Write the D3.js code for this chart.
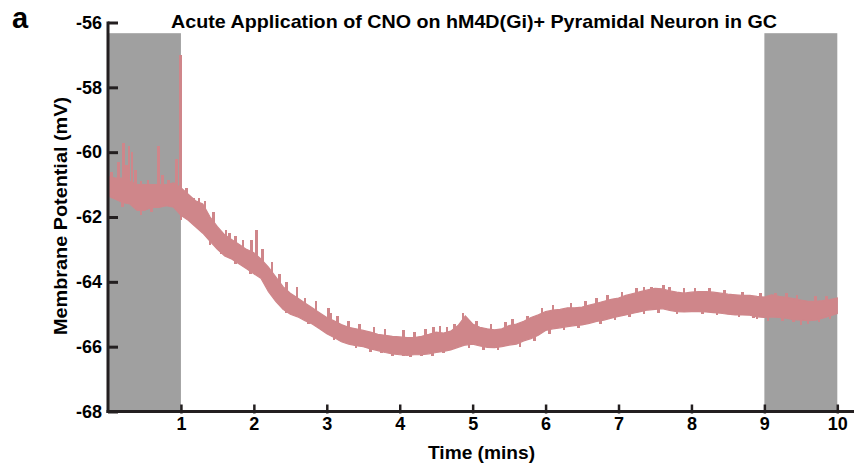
<!DOCTYPE html>
<html>
<head>
<meta charset="utf-8">
<script src="https://cdn.jsdelivr.net/npm/d3@7"></script>
<style>
  html, body { margin: 0; padding: 0; background: #ffffff; }
  svg { display: block; font-family: "Liberation Sans", Arial, Helvetica, sans-serif; }
</style>
</head>
<body>
<svg id="chart" width="854" height="463"></svg>
<script>
// ---- data ----
const timeMin = [0.0,0.1,0.2,0.3,0.4,0.5,0.6,0.7,0.8,0.9,1.0,1.1,1.2,1.3,1.4,1.5,1.6,1.7,1.8,1.9,
  2.0,2.1,2.2,2.3,2.4,2.5,2.6,2.7,2.8,2.9,3.0,3.1,3.2,3.3,3.4,3.5,3.6,3.7,3.8,3.9,
  4.0,4.1,4.2,4.3,4.4,4.5,4.6,4.7,4.8,4.9,5.0,5.1,5.2,5.3,5.4,5.5,5.6,5.7,5.8,5.9,
  6.0,6.1,6.2,6.3,6.4,6.5,6.6,6.7,6.8,6.9,7.0,7.1,7.2,7.3,7.4,7.5,7.6,7.7,7.8,7.9,
  8.0,8.1,8.2,8.3,8.4,8.5,8.6,8.7,8.8,8.9,9.0,9.1,9.2,9.3,9.4,9.5,9.6,9.7,9.8,9.9,10.0];
const upperMV = [-60.75,-60.8,-60.8,-60.9,-61.0,-61.0,-61.0,-61.0,-61.0,-60.95,-61.1,-61.3,-61.5,-61.6,-62.0,-62.3,-62.55,-62.7,-62.85,-63.0,
  -63.1,-63.3,-63.55,-63.85,-64.15,-64.35,-64.5,-64.65,-64.8,-64.95,-65.1,-65.2,-65.32,-65.4,-65.45,-65.5,-65.55,-65.62,-65.65,-65.68,
  -65.7,-65.72,-65.72,-65.68,-65.62,-65.55,-65.58,-65.52,-65.35,-65.05,-65.3,-65.4,-65.45,-65.48,-65.45,-65.35,-65.3,-65.22,-65.1,-65.02,
  -64.92,-64.87,-64.85,-64.8,-64.8,-64.78,-64.72,-64.66,-64.6,-64.54,-64.5,-64.42,-64.36,-64.3,-64.25,-64.2,-64.22,-64.28,-64.32,-64.35,
  -64.32,-64.3,-64.3,-64.32,-64.35,-64.38,-64.4,-64.42,-64.42,-64.45,-64.47,-64.4,-64.45,-64.48,-64.52,-64.56,-64.6,-64.6,-64.58,-64.55,-64.5];
const lowerMV = [-61.35,-61.45,-61.55,-61.6,-61.8,-61.8,-61.7,-61.7,-61.65,-61.7,-61.95,-62.1,-62.3,-62.5,-62.75,-63.0,-63.2,-63.3,-63.45,-63.6,
  -63.75,-63.9,-64.3,-64.6,-64.85,-65.0,-65.08,-65.2,-65.3,-65.45,-65.6,-65.72,-65.85,-65.92,-65.97,-66.0,-66.07,-66.12,-66.18,-66.22,
  -66.25,-66.27,-66.25,-66.25,-66.22,-66.18,-66.15,-66.1,-66.02,-65.95,-65.92,-65.98,-66.02,-66.03,-66.0,-65.95,-65.92,-65.82,-65.75,-65.65,
  -65.5,-65.45,-65.42,-65.38,-65.35,-65.33,-65.28,-65.22,-65.18,-65.12,-65.07,-65.02,-64.97,-64.92,-64.87,-64.85,-64.83,-64.88,-64.92,-64.93,
  -64.92,-64.92,-64.93,-64.95,-64.97,-65.0,-65.02,-65.02,-65.03,-65.08,-65.1,-65.08,-65.1,-65.12,-65.17,-65.18,-65.2,-65.18,-65.12,-65.05,-64.98];
// upward excursions (time in mins, peak in mV)
const spikeUpTime = [0.05,0.14,0.21,0.25,0.29,0.33,0.38,0.45,0.55,0.69,0.75,0.83,0.94,0.99,1.08,1.12,1.17,1.25,1.33,1.45,1.56,1.62,1.67,1.75,1.85,1.97,2.04,2.12,
  2.25,2.35,2.45,2.59,2.7,2.85,3.02,3.06,3.15,3.3,3.45,3.65,3.8,4.05,4.2,4.35,4.46,4.55,4.65,4.75,4.87,5.05,5.25,5.45,5.55,5.75,5.95,
  6.1,6.35,6.55,6.7,6.85,7.05,7.25,7.35,7.45,7.62,7.7,7.9,8.05,8.25,8.45,8.7,8.95,9.15,9.3,9.45,9.7,9.85];
const spikeUpMV   = [-60.6,-60.3,-59.72,-60.4,-59.8,-60.0,-60.55,-60.9,-60.85,-59.8,-60.7,-60.85,-60.2,-57.0,-61.1,-61.35,-61.4,-61.4,-61.5,-61.85,-62.55,-62.4,-62.5,-62.6,-62.7,-62.7,-62.4,-63.0,
  -63.4,-63.75,-64.0,-64.15,-64.5,-64.6,-64.8,-64.95,-65.05,-65.2,-65.3,-65.4,-65.45,-65.5,-65.55,-65.45,-65.4,-65.35,-65.4,-65.3,-64.95,-65.2,-65.3,-65.25,-65.15,-65.05,-64.8,
  -64.7,-64.65,-64.6,-64.5,-64.4,-64.3,-64.2,-64.15,-64.15,-64.1,-64.15,-64.2,-64.2,-64.2,-64.25,-64.3,-64.35,-64.35,-64.35,-64.4,-64.45,-64.45];
// downward excursions
const spikeDownTime = [0.2,0.45,0.6,1.0,1.15,1.4,1.55,1.75,1.95,2.45,2.75,3.1,3.4,3.6,3.75,3.9,4.05,4.15,4.3,4.45,4.6,4.95,5.15,5.35,5.65,5.85,
  6.05,6.25,6.45,6.75,6.95,7.15,7.35,7.55,7.8,8.15,8.35,8.65,8.85,8.9,9.05,9.25,9.4,9.5,9.6,9.75,9.9];
const spikeDownMV   = [-61.7,-61.95,-61.85,-62.1,-62.2,-62.85,-63.15,-63.45,-63.75,-64.95,-65.3,-65.8,-66.05,-66.15,-66.2,-66.3,-66.3,-66.33,-66.3,-66.28,-66.2,-66.05,-66.1,-66.1,-66.0,-65.82,
  -65.6,-65.5,-65.42,-65.3,-65.18,-65.08,-65.0,-64.95,-64.98,-65.0,-65.02,-65.1,-65.12,-65.15,-65.2,-65.2,-65.25,-65.33,-65.3,-65.25,-65.15];
// shaded baseline / washout periods (mins)
const shadeStart = [0, 9];
const shadeEnd   = [1, 10];
const shadeTopMV = -56.33;
const xTicks = [1,2,3,4,5,6,7,8,9,10];
const yTicks = [-68,-66,-64,-62,-60,-58,-56];

const titleText = "Acute Application of CNO on hM4D(Gi)+ Pyramidal Neuron in GC";
const xLabel = "Time (mins)";
const yLabel = "Membrane Potential (mV)";
const panelLabel = "a";

// ---- drawing ----
const svg = d3.select("#chart");
const axisColor = "#231f20";
const traceColor = "#cf868a";
const shadeColor = "#a0a0a0";
const fontFam = "'Liberation Sans', Arial, Helvetica, sans-serif";

const x = d3.scaleLinear().domain([0, 10]).range([108, 837.3]);
const y = d3.scaleLinear().domain([-68, -56]).range([411.5, 22.5]);

// shading
svg.append("g").selectAll("rect")
  .data(shadeStart.map((s, i) => ({s, e: shadeEnd[i]})))
  .join("rect")
  .attr("x", d => x(d.s))
  .attr("width", d => x(d.e) - x(d.s))
  .attr("y", y(shadeTopMV))
  .attr("height", y(-68) - y(shadeTopMV))
  .attr("fill", shadeColor);

// trace band
const band = timeMin.map((t, i) => ({t, hi: upperMV[i], lo: lowerMV[i]}));
svg.append("path")
  .datum(band)
  .attr("d", d3.area().x(d => x(d.t)).y0(d => y(d.lo)).y1(d => y(d.hi)).curve(d3.curveLinear))
  .attr("fill", traceColor)
  .attr("stroke", traceColor)
  .attr("stroke-width", 1.2);

// excursions
const hiAt = d3.scaleLinear().domain(timeMin).range(upperMV);
const loAt = d3.scaleLinear().domain(timeMin).range(lowerMV);
svg.append("g").attr("shape-rendering", "crispEdges").selectAll("line")
  .data(spikeUpTime.map((t, i) => ({t, v: spikeUpMV[i]})))
  .join("line")
  .attr("x1", d => x(d.t)).attr("x2", d => x(d.t))
  .attr("y1", d => y(loAt(d.t)) - 3).attr("y2", d => y(d.v))
  .attr("stroke", traceColor).attr("stroke-width", 2.6);
svg.append("g").attr("shape-rendering", "crispEdges").selectAll("line")
  .data(spikeDownTime.map((t, i) => ({t, v: spikeDownMV[i]})))
  .join("line")
  .attr("x1", d => x(d.t)).attr("x2", d => x(d.t))
  .attr("y1", d => y(hiAt(d.t)) + 3).attr("y2", d => y(d.v))
  .attr("stroke", traceColor).attr("stroke-width", 2.6);

// y axis
const yAxis = svg.append("g").attr("transform", `translate(${x(0)},0)`)
  .call(d3.axisRight(y).tickValues(yTicks).tickSize(10).tickFormat(d => String(d)));
yAxis.select(".domain").remove();
yAxis.selectAll(".tick line").attr("stroke", axisColor).attr("stroke-width", 3);
yAxis.selectAll(".tick text")
  .attr("x", -6).attr("text-anchor", "end")
  .attr("fill", "#000").style("font-size", "18px").style("font-weight", "bold")
  .style("font-family", fontFam);
svg.append("line")
  .attr("x1", x(0)).attr("x2", x(0))
  .attr("y1", y(-56) - 1).attr("y2", y(-68) + 1.5)
  .attr("stroke", axisColor).attr("stroke-width", 3);

// x axis
const xAxis = svg.append("g").attr("transform", `translate(0,${y(-68)})`)
  .call(d3.axisTop(x).tickValues(xTicks).tickSize(8).tickFormat(d => String(d)));
xAxis.select(".domain").remove();
xAxis.selectAll(".tick line").attr("stroke", axisColor).attr("stroke-width", 2.5).attr("y2", -7).attr("y1", 2);
xAxis.selectAll(".tick text")
  .attr("y", 18).attr("dy", 0)
  .attr("fill", "#000").style("font-size", "18px").style("font-weight", "bold")
  .style("font-family", fontFam);
svg.append("line")
  .attr("x1", x(0) - 1.5).attr("x2", 854)
  .attr("y1", y(-68)).attr("y2", y(-68))
  .attr("stroke", axisColor).attr("stroke-width", 3);

// titles
svg.append("text")
  .attr("x", 171).attr("y", 28)
  .attr("textLength", 606).attr("lengthAdjust", "spacingAndGlyphs")
  .style("font-size", "19px").style("font-weight", "bold").attr("fill", "#000")
  .text(titleText);
svg.append("text")
  .attr("x", 428).attr("y", 459)
  .attr("textLength", 107).attr("lengthAdjust", "spacingAndGlyphs")
  .style("font-size", "19px").style("font-weight", "bold").attr("fill", "#000")
  .text(xLabel);
svg.append("text")
  .attr("transform", "translate(67,335) rotate(-90)")
  .attr("textLength", 238).attr("lengthAdjust", "spacingAndGlyphs")
  .style("font-size", "19px").style("font-weight", "bold").attr("fill", "#000")
  .text(yLabel);
svg.append("text")
  .attr("x", 12).attr("y", 28)
  .style("font-size", "29px").style("font-weight", "bold").attr("fill", "#000")
  .text(panelLabel);
</script>
</body>
</html>
